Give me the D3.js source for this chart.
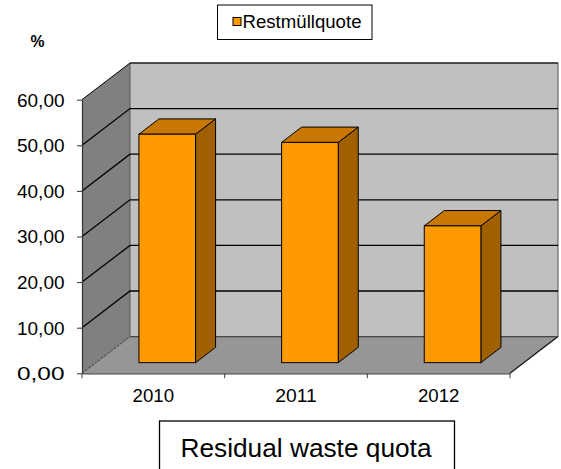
<!DOCTYPE html>
<html><head><meta charset="utf-8">
<script src="https://cdn.jsdelivr.net/npm/d3@7"></script>
<style>body{margin:0;background:#fff}svg{display:block}text{font-family:"Liberation Sans",Arial,sans-serif}</style>
</head><body>
<script>
const years = ["2010", "2011", "2012"];
const values = [50.1, 48.3, 30.0];
const yTicks = [0, 10, 20, 30, 40, 50, 60];
const seriesName = "Restmüllquote";
const unitLabel = "%";
const chartTitle = "Residual waste quota";

const W = 561, H = 469;
const svg = d3.select("body").append("svg").attr("width", W).attr("height", H);

const x0 = 82, x1 = 510, yBase = 373.3, yTop = 99.7;
const DX = 48, DY = -36.7; // full depth offset
const x = d3.scaleBand().domain(years).range([x0, x1]).padding(0);
const y = d3.scaleLinear().domain([0, 60]).range([yBase, yTop]);
const off = d => [DX * d, DY * d];

const line = d3.line();
// side wall
svg.append("path").attr("d", line([[x0, y(60)], [x0 + DX, y(60) + DY], [x0 + DX, y(0) + DY], [x0, y(0)]]) + "Z")
  .attr("fill", "#808080");
// back wall
svg.append("rect").attr("x", x0 + DX).attr("y", y(60) + DY).attr("width", x1 - x0).attr("height", y(0) - y(60))
  .attr("fill", "#c0c0c0").attr("stroke", "#555").attr("stroke-width", 1);
// floor
svg.append("path").attr("d", line([[x0, y(0)], [x0 + DX, y(0) + DY], [x1 + DX, y(0) + DY], [x1, y(0)]]) + "Z")
  .attr("fill", "#969696");
// floor diag edges
svg.append("path").attr("d", line([[x0, y(0)], [x0 + DX, y(0) + DY]])).attr("stroke", "#333").attr("stroke-width", 1).attr("stroke-dasharray", "3,1").attr("fill", "none");
svg.append("path").attr("d", line([[x1, y(0)], [x1 + DX, y(0) + DY]])).attr("stroke", "#111").attr("stroke-width", 1.2).attr("fill", "none");

// gridlines
const grid = svg.append("g");
yTicks.filter(v => v > 0).forEach(v => {
  grid.append("path").attr("d", line([[x0, y(v)], [x0 + DX, y(v) + DY], [x1 + DX, y(v) + DY]]))
    .attr("fill", "none").attr("stroke", "#000").attr("stroke-width", v === 60 ? 1 : 1.3);
});
// back wall floor line
svg.append("path").attr("d", line([[x0 + DX, y(0) + DY], [x1 + DX, y(0) + DY]])).attr("stroke", "#444").attr("stroke-width", 1.2);

// bars
const dFront = 0.29, dBack = 0.707, barFrac = 0.397;
const bars = svg.append("g").selectAll("g").data(years.map((yr, i) => ({yr, v: values[i]}))).join("g");
bars.each(function(d) {
  const g = d3.select(this);
  const [ox, oy] = off(dFront);
  const [bx, by] = off(dBack - dFront);
  const cx = x(d.yr) + x.bandwidth() / 2 + ox;
  const w = x.bandwidth() * barFrac;
  const L = cx - w / 2, R = cx + w / 2;
  const T = y(d.v) + oy, B = y(0) + oy;
  g.append("path").attr("d", line([[R, T], [R + bx, T + by], [R + bx, B + by], [R, B]]) + "Z")
    .attr("fill", "#a06000").attr("stroke", "#000").attr("stroke-width", 1);
  g.append("path").attr("d", line([[L, T], [L + bx, T + by], [R + bx, T + by], [R, T]]) + "Z")
    .attr("fill", "#c87800").attr("stroke", "#000").attr("stroke-width", 1);
  g.append("rect").attr("x", L).attr("y", T).attr("width", w).attr("height", B - T)
    .attr("fill", "#ff9900").attr("stroke", "#000").attr("stroke-width", 1);
});

// y axis
const loc = d3.formatLocale({decimal: ",", thousands: ".", grouping: [3], currency: ["", "€"]});
const fmt = loc.format(".2f");
const yAxis = svg.append("g").attr("transform", `translate(${x0},0)`)
  .call(d3.axisLeft(y).tickValues(yTicks).tickFormat(fmt).tickSize(5).tickSizeOuter(0));
yAxis.select(".domain").attr("stroke", "#333").attr("stroke-width", 1.2);
yAxis.selectAll(".tick line").attr("stroke", "#333");
yAxis.selectAll(".tick text").attr("font-size", 18).attr("fill", "#000").attr("x", -17.5)
  .attr("dy", "0.36em").attr("textLength", 47.5).attr("lengthAdjust", "spacingAndGlyphs");

// x axis
const xAxis = svg.append("g").attr("transform", `translate(0,${yBase})`)
  .call(d3.axisBottom(x).tickSize(0).tickSizeOuter(0));
xAxis.select(".domain").attr("stroke", "#444").attr("stroke-width", 1.2);
xAxis.selectAll(".tick text").attr("font-size", 18).attr("fill", "#000").attr("y", 0).attr("dy", 29)
  .attr("textLength", 41.5).attr("lengthAdjust", "spacingAndGlyphs");
const bounds = years.map(yr => x(yr)).concat([x1]);
svg.append("g").selectAll("line").data(bounds).join("line")
  .attr("x1", d => d).attr("x2", d => d).attr("y1", yBase).attr("y2", yBase + 5)
  .attr("stroke", "#444").attr("stroke-width", 1);

// unit label
svg.append("text").attr("x", 30.5).attr("y", 46.5).attr("font-size", 17).attr("font-weight", "bold")
  .attr("textLength", 14).attr("lengthAdjust", "spacingAndGlyphs").text(unitLabel);

// legend
svg.append("rect").attr("x", 217.5).attr("y", 5).attr("width", 154.5).attr("height", 34.5)
  .attr("fill", "#fff").attr("stroke", "#000").attr("stroke-width", 1);
svg.append("rect").attr("x", 233).attr("y", 17.5).attr("width", 8).attr("height", 8)
  .attr("fill", "#ff9900").attr("stroke", "#000").attr("stroke-width", 1);
svg.append("text").attr("x", 242.5).attr("y", 27.5).attr("font-size", 17.5)
  .attr("textLength", 119).attr("lengthAdjust", "spacingAndGlyphs").text(seriesName);

// title box
svg.append("rect").attr("x", 159.5).attr("y", 421).attr("width", 295).attr("height", 60)
  .attr("fill", "#fff").attr("stroke", "#000").attr("stroke-width", 1.3);
svg.append("text").attr("x", 306).attr("y", 456.5).attr("text-anchor", "middle").attr("font-size", 26)
  .attr("textLength", 251).attr("lengthAdjust", "spacingAndGlyphs").text(chartTitle);
</script>
</body></html>
